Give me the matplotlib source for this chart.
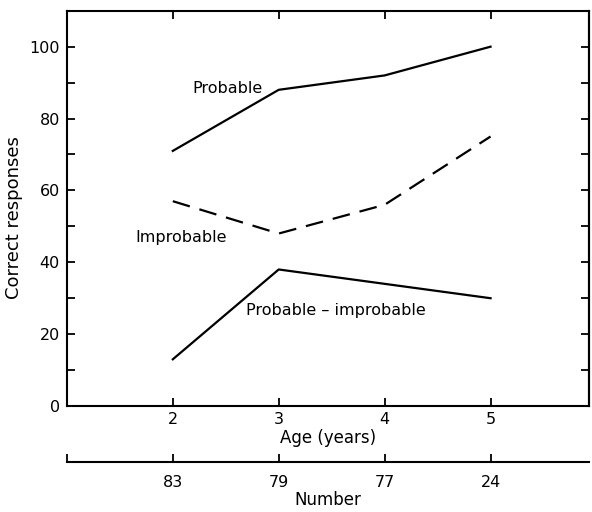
import matplotlib.pyplot as plt
import numpy as np

plt.rcParams["font.family"] = "DejaVu Sans"

# values
ages = [2, 3, 4, 5]
counts = ["83", "79", "77", "24"]
probable = [71, 88, 92, 100]
improbable = [57, 48, 56, 75]
difference = [13, 38, 34, 30]

fig = plt.figure(figsize=(5.92, 5.12), dpi=100)
ax = fig.add_axes([0.113, 0.207, 0.882, 0.772])

lw = 1.6
ax.plot(ages, probable, color="black", lw=lw)
ax.plot(ages, improbable, color="black", lw=lw, linestyle=(0, (8, 4.5)))
ax.plot(ages, difference, color="black", lw=lw)

ax.text(2.52, 88.5, "Probable", fontsize=11.5, ha="center", va="center")
ax.text(2.08, 47, "Improbable", fontsize=11.5, ha="center", va="center")
ax.text(3.54, 26.5, "Probable – improbable", fontsize=11.5, ha="center", va="center")

ax.set_xlim(1, 5.93)
ax.set_ylim(0, 110)

for s in ax.spines.values():
    s.set_linewidth(1.5)

ax.set_xticks(ages)
ax.set_xticklabels([str(a) for a in ages])
ax.set_yticks([0, 20, 40, 60, 80, 100])
ax.set_yticks(np.arange(10, 110, 20), minor=True)
ax.tick_params(axis="both", which="both", direction="in", length=6, width=1.3,
               labelsize=11.5, top=True, right=False)
ax.tick_params(axis="y", which="major", pad=5)
ax.tick_params(axis="x", which="major", pad=4)

# right side ticks every 10, no labels
right = ax.secondary_yaxis("right")
right.set_yticks(np.arange(10, 110, 10))
right.set_yticklabels([])
right.tick_params(direction="in", length=6, width=1.3)
right.spines["right"].set_linewidth(1.5)

ax.set_xlabel("Age (years)", fontsize=12, labelpad=2)
ax.set_ylabel("Correct responses", fontsize=13)
ax.yaxis.set_label_coords(-0.085, 0.478)

# second scale: number of children
num = ax.secondary_xaxis(-0.142)
num.set_xticks([1] + ages)
num.set_xticklabels([""] + counts)
num.tick_params(direction="in", length=6, width=1.3, labelsize=11.5, pad=9)
num.spines["bottom"].set_linewidth(1.5)
num.set_xlabel("Number", fontsize=12, labelpad=1)

fig.savefig("out.png", dpi=100)
